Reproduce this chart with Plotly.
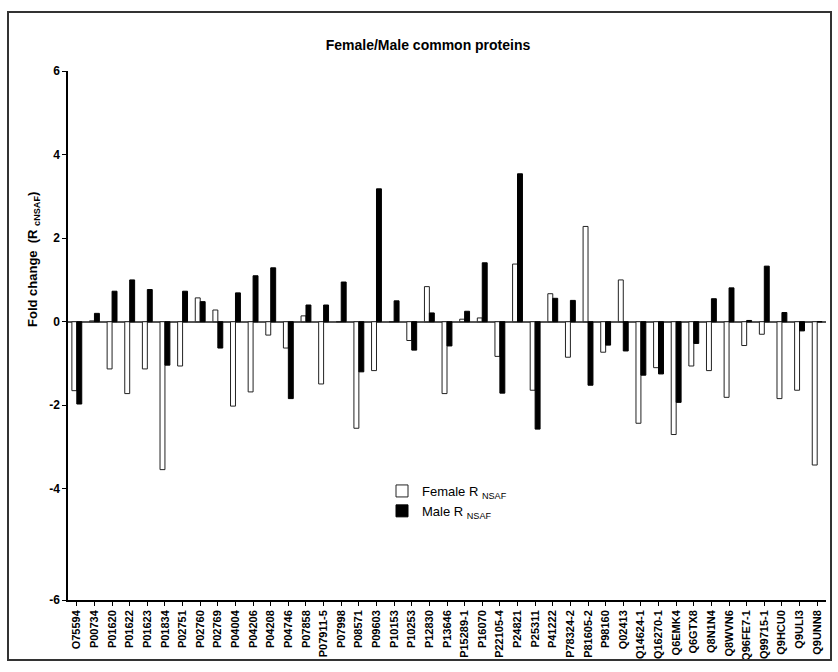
import plotly.graph_objects as go

proteins = ["O75594", "P00734", "P01620", "P01622", "P01623", "P01834", "P02751", "P02760",
            "P02769", "P04004", "P04206", "P04208", "P04746", "P07858", "P07911-5", "P07998",
            "P08571", "P09603", "P10153", "P10253", "P12830", "P13646", "P15289-1", "P16070",
            "P22105-4", "P24821", "P25311", "P41222", "P78324-2", "P81605-2", "P98160", "Q02413",
            "Q14624-1", "Q16270-1", "Q6EMK4", "Q6GTX8", "Q8N1N4", "Q8WVN6", "Q96FE7-1",
            "Q99715-1", "Q9HCU0", "Q9ULI3", "Q9UNN8"]

female = [-1.65, 0.02, -1.13, -1.72, -1.13, -3.54, -1.06, 0.57,
          0.28, -2.02, -1.68, -0.32, -0.63, 0.14, -1.49, 0.0,
          -2.55, -1.17, 0.0, -0.45, 0.84, -1.72, 0.06, 0.09,
          -0.83, 1.38, -1.64, 0.67, -0.85, 2.28, -0.73, 1.0,
          -2.43, -1.10, -2.70, -1.06, -1.17, -1.81, -0.57,
          -0.30, -1.84, -1.64, -3.43]

male = [-1.97, 0.20, 0.73, 1.0, 0.77, -1.04, 0.73, 0.48,
        -0.63, 0.69, 1.10, 1.29, -1.84, 0.40, 0.40, 0.95,
        -1.2, 3.18, 0.50, -0.68, 0.21, -0.58, 0.25, 1.41,
        -1.71, 3.54, -2.57, 0.56, 0.51, -1.52, -0.56, -0.70,
        -1.28, -1.25, -1.93, -0.52, 0.55, 0.81, 0.03,
        1.33, 0.22, -0.22, 0.0]

y_tickvals = [-6.66, -4, -2, 0, 2, 4, 6]
y_ticktext = ["-6", "-4", "-2", "0", "2", "4", "6"]

FONT = "Liberation Sans, Arial, sans-serif"

fig = go.Figure()
fig.add_trace(go.Bar(
    x=proteins, y=female, name="Female R <sub>NSAF</sub>",
    marker=dict(color="white", line=dict(color="#222", width=1)),
))
fig.add_trace(go.Bar(
    x=proteins, y=male, name="Male R <sub>NSAF</sub>",
    marker=dict(color="black", line=dict(color="black", width=1)),
))

L, R, T, B = 68, 12, 71, 72
W, H = 838, 672
pw, ph = W - L - R, H - T - B

def px_to_paper_x(px):
    return (px - L) / pw

def px_to_paper_y(py):
    return (H - B - py) / ph

fig.update_layout(
    width=W, height=H,
    margin=dict(l=L, r=R, t=T, b=B),
    paper_bgcolor="white", plot_bgcolor="white",
    barmode="group", bargap=0.44, bargroupgap=0.0,
    font=dict(family=FONT, color="black"),
    title=dict(text="Female/Male common proteins", x=428 / W, xref="container",
               xanchor="center", y=1 - 45 / H, yref="container", yanchor="middle",
               font=dict(size=14, family=FONT, weight="bold", color="black")),
    showlegend=True,
    legend=dict(x=px_to_paper_x(382), y=px_to_paper_y(476), xanchor="left", yanchor="top",
                bgcolor="rgba(0,0,0,0)", font=dict(size=13, family=FONT, color="black"),
                tracegroupgap=0, itemwidth=30),
    xaxis=dict(
        showline=True, linecolor="black", linewidth=1.5,
        ticks="outside", ticklen=4, tickcolor="black", tickwidth=1.2,
        tickangle=-90, tickfont=dict(size=11, family=FONT, weight="bold", color="black"),
        showgrid=False, zeroline=False,
    ),
    yaxis=dict(
        range=[-6.66, 6.0], tickvals=y_tickvals, ticktext=y_ticktext,
        showline=True, linecolor="black", linewidth=1.5,
        ticks="outside", ticklen=4, tickcolor="black", tickwidth=1.2,
        tickfont=dict(size=12, family=FONT, weight="bold", color="black"),
        showgrid=False, zeroline=True, zerolinecolor="#555", zerolinewidth=1.5,
    ),
)

fig.add_annotation(
    text="Fold change  (R <sub>cNSAF</sub>)", textangle=-90,
    xref="paper", yref="paper", x=px_to_paper_x(33), y=px_to_paper_y(260),
    xanchor="center", yanchor="middle", showarrow=False,
    font=dict(size=13, family=FONT, weight="bold", color="black"),
)

fig.add_shape(
    type="rect", xref="paper", yref="paper",
    x0=px_to_paper_x(8), x1=px_to_paper_x(831),
    y0=px_to_paper_y(660), y1=px_to_paper_y(12),
    line=dict(color="#333", width=2), fillcolor="rgba(0,0,0,0)", layer="above",
)

fig.write_html("out.html")
